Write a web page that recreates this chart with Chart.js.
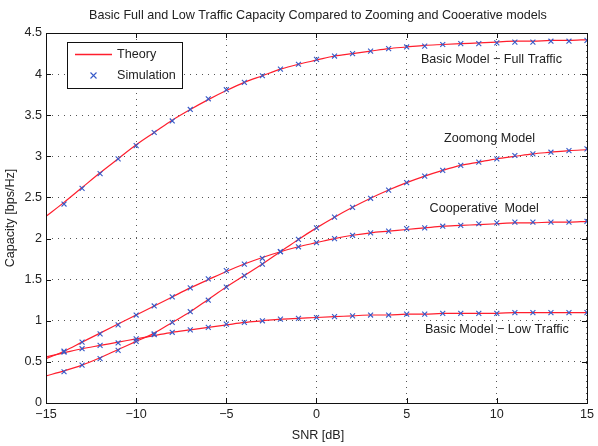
<!DOCTYPE html>
<html>
<head>
<meta charset="utf-8">
<script src="https://cdn.jsdelivr.net/npm/chart.js@4/dist/chart.umd.min.js"></script>
<style>
	html, body { margin: 0; padding: 0; background: #fff; }
	#wrap { width: 598px; height: 446px; }
</style>
</head>
<body>
<div id="wrap"><canvas id="myChart"></canvas></div>
<script>
	// SNR points (dB)
	const snrTheory = [-15, -14, -13, -12, -11, -10, -9, -8, -7, -6, -5, -4, -3, -2, -1, 0, 1, 2, 3, 4, 5, 6, 7, 8, 9, 10, 11, 12, 13, 14, 15];
	const snrSim = [-14, -13, -12, -11, -10, -9, -8, -7, -6, -5, -4, -3, -2, -1, 0, 1, 2, 3, 4, 5, 6, 7, 8, 9, 10, 11, 12, 13, 14, 15];

	// theory curves
	const fullTheory = [2.27, 2.44, 2.62, 2.80, 2.97, 3.14, 3.29, 3.44, 3.57, 3.69, 3.80, 3.90, 3.98, 4.06, 4.12, 4.17, 4.22, 4.25, 4.28, 4.31, 4.33, 4.35, 4.36, 4.37, 4.38, 4.39, 4.40, 4.40, 4.41, 4.41, 4.42];
	const zoomTheory = [0.33, 0.39, 0.46, 0.55, 0.65, 0.75, 0.85, 0.98, 1.11, 1.26, 1.41, 1.55, 1.69, 1.84, 1.99, 2.13, 2.26, 2.38, 2.49, 2.59, 2.68, 2.76, 2.83, 2.89, 2.93, 2.97, 3.00, 3.03, 3.05, 3.07, 3.08];
	const coopTheory = [0.54, 0.63, 0.74, 0.85, 0.96, 1.07, 1.18, 1.29, 1.40, 1.50, 1.60, 1.69, 1.77, 1.84, 1.90, 1.95, 2.00, 2.04, 2.07, 2.09, 2.11, 2.13, 2.15, 2.16, 2.17, 2.18, 2.19, 2.19, 2.20, 2.20, 2.21];
	const lowTheory = [0.56, 0.61, 0.66, 0.70, 0.74, 0.78, 0.82, 0.86, 0.89, 0.92, 0.95, 0.98, 1.00, 1.02, 1.03, 1.04, 1.05, 1.06, 1.07, 1.07, 1.08, 1.08, 1.09, 1.09, 1.09, 1.09, 1.10, 1.10, 1.10, 1.10, 1.10];

	// simulation points
	const fullSim = [2.42, 2.61, 2.79, 2.97, 3.13, 3.29, 3.43, 3.57, 3.70, 3.81, 3.90, 3.98, 4.06, 4.12, 4.18, 4.22, 4.25, 4.28, 4.31, 4.33, 4.34, 4.36, 4.37, 4.37, 4.38, 4.39, 4.39, 4.40, 4.40, 4.41];
	const zoomSim = [0.38, 0.46, 0.54, 0.64, 0.75, 0.84, 0.98, 1.11, 1.25, 1.41, 1.55, 1.69, 1.84, 1.99, 2.13, 2.26, 2.38, 2.49, 2.59, 2.68, 2.76, 2.83, 2.89, 2.93, 2.97, 3.01, 3.03, 3.05, 3.07, 3.09];
	const coopSim = [0.63, 0.74, 0.84, 0.95, 1.07, 1.18, 1.29, 1.40, 1.51, 1.61, 1.69, 1.76, 1.84, 1.90, 1.95, 2.00, 2.04, 2.07, 2.09, 2.12, 2.13, 2.15, 2.16, 2.18, 2.19, 2.20, 2.20, 2.20, 2.20, 2.21];
	const lowSim = [0.62, 0.66, 0.70, 0.73, 0.78, 0.83, 0.86, 0.89, 0.92, 0.96, 0.98, 1.00, 1.02, 1.03, 1.04, 1.05, 1.06, 1.07, 1.07, 1.08, 1.08, 1.09, 1.09, 1.09, 1.09, 1.10, 1.10, 1.10, 1.10, 1.10];

	// curve labels: [text, center x value, y value]
	const curveLabels = [
		["Basic Model \u2212 Full Traffic", 9.7, 4.18],
		["Zoomong Model", 9.6, 3.22],
		["Cooperative  Model", 9.3, 2.36],
		["Basic Model \u2212 Low Traffic", 10.0, 0.89],
	];

	const xTicks = [-15, -10, -5, 0, 5, 10, 15];
	const yTicks = [0, 0.5, 1, 1.5, 2, 2.5, 3, 3.5, 4, 4.5];

	const FONT = "'Liberation Sans', Arial, sans-serif";
	const RED = "rgb(255, 30, 45)";
	const BLUE = "rgb(55, 90, 200)";

	function pairs(xs, ys) {
		return xs.map((x, i) => ({ x: x, y: ys[i] }));
	}

	function theorySet(values) {
		return {
			data: pairs(snrTheory, values),
			borderColor: RED,
			borderWidth: 1.2,
			pointRadius: 0,
			cubicInterpolationMode: "monotone",
			fill: false,
		};
	}
	function simSet(values) {
		return {
			data: pairs(snrSim, values),
			showLine: false,
			pointStyle: "crossRot",
			pointRadius: 3.5,
			pointBorderColor: BLUE,
			pointBorderWidth: 1.1,
			borderColor: BLUE,
		};
	}

	// frame, inner ticks, title, axis labels, legend box, curve labels
	const decor = {
		id: "decor",
		afterDraw(chart) {
			const ctx = chart.ctx;
			const a = chart.chartArea;
			const xs = chart.scales.x;
			const ys = chart.scales.y;
			ctx.save();
			ctx.strokeStyle = "#111";
			ctx.lineWidth = 1;
			ctx.strokeRect(a.left + 0.5, a.top + 0.5, a.right - a.left, a.bottom - a.top);

			ctx.beginPath();
			xTicks.forEach((v) => {
				const px = Math.round(xs.getPixelForValue(v)) + 0.5;
				ctx.moveTo(px, a.bottom); ctx.lineTo(px, a.bottom - 5);
				ctx.moveTo(px, a.top); ctx.lineTo(px, a.top + 5);
			});
			yTicks.forEach((v) => {
				const py = Math.round(ys.getPixelForValue(v)) + 0.5;
				ctx.moveTo(a.left, py); ctx.lineTo(a.left + 5, py);
				ctx.moveTo(a.right, py); ctx.lineTo(a.right - 5, py);
			});
			ctx.stroke();

			ctx.fillStyle = "#222";
			ctx.font = "12.6px " + FONT;
			ctx.textAlign = "center";
			ctx.textBaseline = "middle";
			ctx.fillText("Basic Full and Low Traffic Capacity Compared to Zooming and Cooerative models", 318, 16);
			ctx.fillText("SNR [dB]", 318, 436);
			ctx.save();
			ctx.translate(11, 218);
			ctx.rotate(-Math.PI / 2);
			ctx.fillText("Capacity [bps/Hz]", 0, 0);
			ctx.restore();

			curveLabels.forEach((l) => {
				ctx.fillText(l[0], xs.getPixelForValue(l[1]), ys.getPixelForValue(l[2]));
			});

			// legend
			ctx.fillStyle = "#fff";
			ctx.fillRect(67, 42, 115, 46);
			ctx.strokeStyle = "#111";
			ctx.strokeRect(67.5, 42.5, 115, 46);
			ctx.strokeStyle = RED;
			ctx.lineWidth = 1.3;
			ctx.beginPath();
			ctx.moveTo(75, 54.5); ctx.lineTo(112, 54.5);
			ctx.stroke();
			ctx.strokeStyle = BLUE;
			ctx.lineWidth = 1.1;
			ctx.beginPath();
			ctx.moveTo(90.5, 72.5); ctx.lineTo(96.5, 78.5);
			ctx.moveTo(96.5, 72.5); ctx.lineTo(90.5, 78.5);
			ctx.stroke();
			ctx.fillStyle = "#222";
			ctx.textAlign = "left";
			ctx.fillText("Theory", 117, 55);
			ctx.fillText("Simulation", 117, 76);
			ctx.restore();
		},
	};

	var datasets = [
		simSet(fullSim), simSet(zoomSim), simSet(coopSim), simSet(lowSim),
		theorySet(fullTheory), theorySet(zoomTheory), theorySet(coopTheory), theorySet(lowTheory),
	];

	var ctx = document.getElementById("myChart").getContext("2d");
	new Chart(ctx, {
		type: "line",
		data: { datasets: datasets },
		options: {
			responsive: true,
			maintainAspectRatio: false,
			animation: false,
			layout: { padding: { top: 33, right: 9, bottom: 0, left: 0 } },
			plugins: {
				legend: { display: false },
				title: { display: false },
				tooltip: { enabled: false },
			},
			scales: {
				x: {
					type: "linear",
					min: -15,
					max: 15,
					afterFit: (s) => { s.height = 43; },
					afterBuildTicks: (s) => { s.ticks = xTicks.map((v) => ({ value: v })); },
					ticks: {
						padding: 4,
						color: "#222",
						font: { family: FONT, size: 12.6 },
						maxRotation: 0,
						callback: (v) => String(v).replace("-", "\u2212"),
					},
					grid: { color: "#555", lineWidth: 1, drawTicks: false },
					border: { display: false, dash: [1, 5] },
				},
				y: {
					min: 0,
					max: 4.5,
					afterFit: (s) => { s.width = 46; },
					afterBuildTicks: (s) => { s.ticks = yTicks.map((v) => ({ value: v })); },
					ticks: {
						padding: 4,
						color: "#222",
						font: { family: FONT, size: 12.6 },
						callback: (v) => String(v),
					},
					grid: { color: "#555", lineWidth: 1, drawTicks: false },
					border: { display: false, dash: [1, 5] },
				},
			},
		},
		plugins: [decor],
	});
</script>
</body>
</html>
